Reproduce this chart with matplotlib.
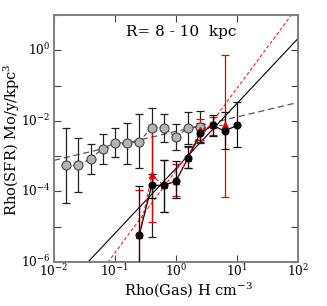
import matplotlib
matplotlib.use("Agg")
import matplotlib.pyplot as plt
import numpy as np
from matplotlib.ticker import LogLocator, FuncFormatter, NullLocator

# ---- data (log10 values) ----
gray_x = [0.0158, 0.025, 0.040, 0.063, 0.10, 0.158, 0.25, 0.40, 0.63, 1.0, 1.58, 2.5]
gray_logy = [-3.26, -3.26, -3.07, -2.79, -2.62, -2.63, -2.59, -2.19, -2.20, -2.46, -2.20, -2.18]
gray_up = [-2.19, -2.48, -2.65, -2.36, -2.19, -2.05, -1.80, -1.65, -1.82, -2.08, -1.75, -1.73]
gray_lo = [-4.33, -4.03, -3.52, -3.23, -3.03, -3.23, -3.34, -5.30, -2.60, -2.84, -2.65, -2.63]

black_x = [0.25, 0.40, 0.63, 1.0, 1.58, 2.5, 4.0, 6.3, 10.0]
black_logy = [-5.24, -3.83, -3.83, -3.71, -3.05, -2.35, -2.13, -2.29, -2.13]
black_up = [-3.86, -3.50, -3.12, -3.15, -2.70, -2.05, -1.84, -1.76, -1.47]
black_lo = [-7.00, -4.20, -4.58, -4.20, -3.35, -2.60, -2.43, -2.81, -2.74]

red_x = [0.25, 0.40, 0.63, 1.0, 1.58, 2.5, 4.0, 6.3]
red_logy = [-5.24, -3.54, -3.83, -3.71, -3.05, -2.25, -2.13, -2.13]
red_up = [-3.95, -2.20, -3.12, -3.22, -2.75, -1.95, -1.90, -0.13]
red_lo = [-7.00, -4.88, -4.58, -4.12, -3.35, -2.55, -2.40, -4.16]

# power-law fits: log y = a + b log x
fit_gray = (-2.30, 0.41)
fit_black = (-3.35, 1.84)
fit_red = (-3.41, 2.33)

title = "R= 8 - 10  kpc"
xlabel = "Rho(Gas) H cm$^{-3}$"
ylabel = "Rho(SFR) Mo/y/kpc$^{3}$"

plt.rcParams['font.family'] = ['DejaVu Serif']
plt.rcParams['mathtext.fontset'] = 'dejavuserif'

fig = plt.figure(figsize=(3.27, 3.06), dpi=100)
ax = fig.add_axes([0.165, 0.144, 0.746, 0.807])

def pw(v):
    return 10.0 ** np.asarray(v)

def err(logy, up, lo):
    y = pw(logy)
    return y, np.vstack([y - pw(lo), pw(up) - y])

# gray series
gy, ge = err(gray_logy, gray_up, gray_lo)
ax.errorbar(gray_x, gy, yerr=ge, fmt='none', ecolor='#222222', elinewidth=0.9,
            capsize=3, capthick=0.9, zorder=2)
ax.plot(gray_x, gy, ls=(0, (4, 2)), color='#444444', lw=0.8, marker='o', ms=6.5,
        mfc='#b4b4b4', mec='#444444', mew=0.8, zorder=3)

# red series
ry, re_ = err(red_logy, red_up, red_lo)
ax.errorbar(red_x, ry, yerr=re_, fmt='none', ecolor='#dd0000', elinewidth=0.9,
            capsize=3, capthick=0.9, zorder=2.5)

# black series
by, be = err(black_logy, black_up, black_lo)
ax.errorbar(black_x, by, yerr=be, fmt='none', ecolor='#111111', elinewidth=0.9,
            capsize=3, capthick=0.9, zorder=2.6)
ax.plot(black_x, by, ls='-', color='black', lw=0.9, zorder=3.5)
ax.plot(red_x, ry, ls=(0, (3, 2)), color='#ee0000', lw=0.8, marker='^', ms=5,
        mfc='#ee0000', mec='#ee0000', zorder=3.6)
ax.plot(black_x, by, ls='none', marker='o', ms=4.8, mfc='black', mec='black', zorder=4)

# fit lines
xf = np.logspace(-2, 2, 50)
ax.plot(xf, pw(fit_gray[0] + fit_gray[1] * np.log10(xf)), ls=(0, (5, 3)),
        color='#555555', lw=0.9, zorder=1.5)
ax.plot(xf, pw(fit_black[0] + fit_black[1] * np.log10(xf)), ls='-',
        color='black', lw=0.8, zorder=1.5)
ax.plot(xf, pw(fit_red[0] + fit_red[1] * np.log10(xf)), ls=(0, (3, 2)),
        color='#ff2222', lw=0.8, zorder=1.5)

ax.set_xscale('log')
ax.set_yscale('log')
ax.set_xlim(1e-2, 1e2)
ax.set_ylim(1e-6, 1e1)

ax.xaxis.set_major_locator(LogLocator(base=10, numticks=10))
ax.xaxis.set_minor_locator(NullLocator())
ax.yaxis.set_major_locator(LogLocator(base=10, numticks=20))
ax.yaxis.set_minor_locator(NullLocator())

def yfmt(v, pos):
    e = int(round(np.log10(v)))
    if e % 2 == 0:
        return r"$10^{%d}$" % e
    return ""

def xfmt(v, pos):
    e = int(round(np.log10(v)))
    return r"$10^{%d}$" % e

ax.yaxis.set_major_formatter(FuncFormatter(yfmt))
ax.xaxis.set_major_formatter(FuncFormatter(xfmt))
ax.tick_params(which='both', direction='in', top=True, right=True, length=5,
               width=0.8, color='#444444', labelsize=8.8)
ax.tick_params(axis='x', pad=1)
ax.tick_params(axis='y', pad=2.5)
for lab in ax.get_yticklabels():
    lab.set_verticalalignment('center')

for s in ax.spines.values():
    s.set_color('#808080')
    s.set_linewidth(1.4)

ax.text(0.52, 0.93, title, transform=ax.transAxes, ha='center', va='center',
        fontsize=11)
fig.text(189 / 327, 1 - 289.5 / 306, xlabel, ha='center', va='center', fontsize=10.5)
fig.text(12 / 327, 1 - 140 / 306, ylabel, ha='center', va='center', fontsize=10.5,
         rotation=90)

fig.savefig("out.png", dpi=100)
